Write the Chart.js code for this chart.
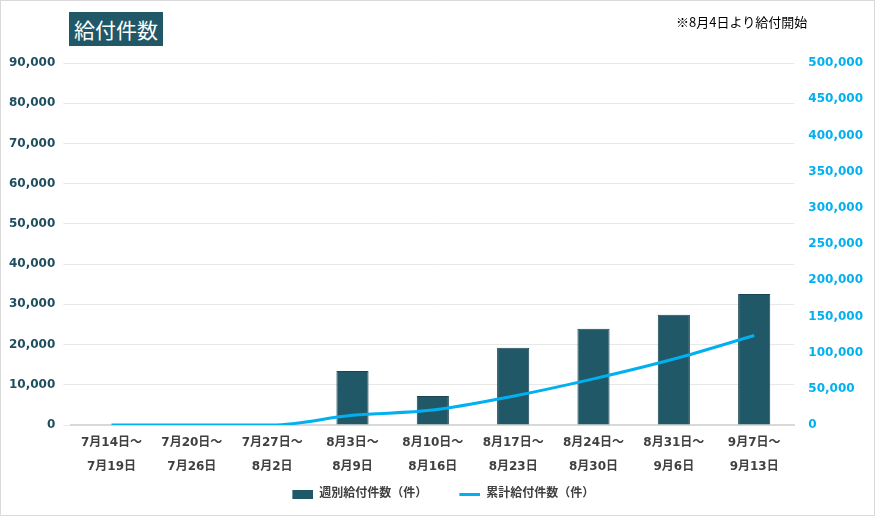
<!DOCTYPE html>
<html>
<head>
<meta charset="utf-8">
<script src="https://cdn.jsdelivr.net/npm/chart.js@4"></script>
<style>
  html, body { margin: 0; padding: 0; background: #fff; }
  #wrap { position: relative; width: 873px; height: 514px; border: 1px solid #d9d9d9; }
  #title {
    position: absolute; left: 68px; top: 11px; padding: 3px 5px;
    background: #215868; color: #fff;
    font: 21px "Noto Sans CJK JP", sans-serif; line-height: 28px;
  }
  #note {
    position: absolute; left: 675px; top: 11px;
    font: 13px "Noto Sans CJK JP", sans-serif; color: #000;
  }
</style>
</head>
<body>
<div id="wrap">
  <canvas id="chart" width="873" height="514"></canvas>
  <div id="title">給付件数</div>
  <div id="note">※8月4日より給付開始</div>
</div>
<script>
// ============ DATA ============

const weeks = [
  ['7月14日～', '7月19日'],
  ['7月20日～', '7月26日'],
  ['7月27日～', '8月2日'],
  ['8月3日～', '8月9日'],
  ['8月10日～', '8月16日'],
  ['8月17日～', '8月23日'],
  ['8月24日～', '8月30日'],
  ['8月31日～', '9月6日'],
  ['9月7日～', '9月13日']
];
const weeklyCounts = [0, 0, 0, 13400, 7200, 19200, 23900, 27400, 32600];
const cumulativeCounts = [0, 0, 0, 13400, 20600, 39800, 63700, 91100, 123700];

const leftMax = 90000;
const leftStep = 10000;
const rightMax = 500000;
const rightStep = 50000;

// ============ CHART ============

const fontFamily = '"DejaVu Sans", "Noto Sans CJK JP", sans-serif';
const barColor = '#215868';
const lineColor = '#00b0f0';
const markerBox = 42;

function formatNumber(value) {
  return new Intl.NumberFormat('en-US').format(value);
}

// legend marker: blank on the left gives the wider gap between the two entries
function legendMarker(width, height, color) {
  const c = document.createElement('canvas');
  c.width = markerBox;
  c.height = height;
  const ctx = c.getContext('2d');
  ctx.fillStyle = color;
  ctx.fillRect(markerBox - width, 0, width, height);
  return c;
}

new Chart(document.getElementById('chart'), {
  data: {
    labels: weeks,
    datasets: [
      {
        type: 'line',
        label: '累計給付件数（件）',
        data: cumulativeCounts,
        yAxisID: 'y2',
        borderColor: lineColor,
        backgroundColor: lineColor,
        borderWidth: 3,
        pointRadius: 0,
        pointStyle: legendMarker(21, 3, lineColor),
        tension: 0.35,
        cubicInterpolationMode: 'monotone',
        order: 0
      },
      {
        type: 'bar',
        label: '週別給付件数（件）',
        data: weeklyCounts,
        yAxisID: 'y',
        backgroundColor: barColor,
        borderColor: '#1a4653',
        borderWidth: 1,
        pointStyle: legendMarker(21, 9, barColor),
        barPercentage: 0.4,
        categoryPercentage: 1,
        order: 1
      }
    ]
  },
  options: {
    responsive: false,
    animation: false,
    layout: { padding: { top: 62, left: 0, right: 5, bottom: 5 } },
    plugins: {
      legend: {
        position: 'bottom',
        fullSize: false,
        reverse: true,
        labels: {
          usePointStyle: true,
          pointStyleWidth: markerBox,
          boxHeight: 9,
          padding: 11,
          color: '#404040',
          font: { family: fontFamily, size: 12, weight: 'bold' }
        }
      },
      tooltip: { enabled: false }
    },
    scales: {
      x: {
        grid: { display: false },
        border: { color: '#d9d9d9', width: 2 },
        ticks: {
          color: '#404040',
          maxRotation: 0,
          autoSkip: false,
          padding: -2,
          font: { family: fontFamily, size: 12, weight: 'bold', lineHeight: 2 }
        }
      },
      y: {
        position: 'left',
        min: 0,
        max: leftMax,
        grid: { color: '#e8e8e8', tickLength: 8 },
        border: { display: false },
        ticks: {
          stepSize: leftStep,
          color: '#1f4e5f',
          padding: 8,
          font: { family: fontFamily, size: 12, weight: 'bold' },
          callback: v => formatNumber(v)
        }
      },
      y2: {
        position: 'right',
        min: 0,
        max: rightMax,
        grid: { display: false },
        border: { display: false },
        ticks: {
          stepSize: rightStep,
          color: lineColor,
          padding: 6,
          font: { family: fontFamily, size: 12, weight: 'bold' },
          callback: v => formatNumber(v)
        }
      }
    }
  }
});
</script>
</body>
</html>
